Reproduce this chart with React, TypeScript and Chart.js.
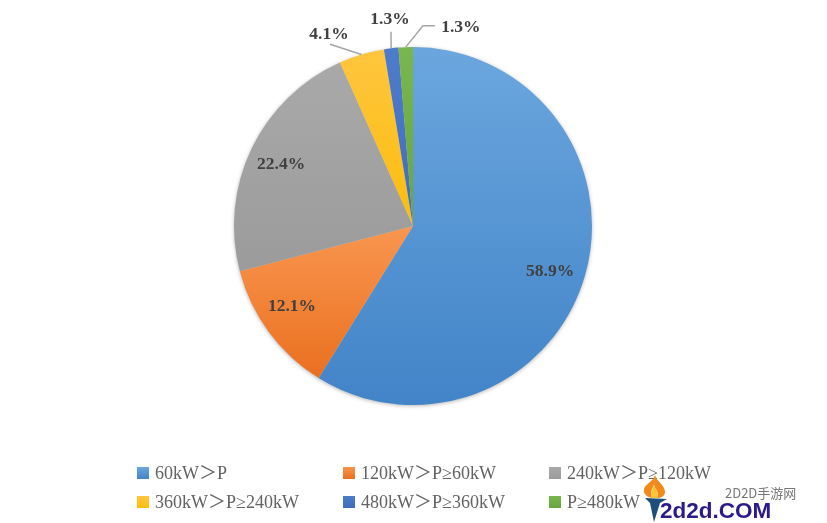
import { useEffect, useRef } from 'react';
import { Chart, registerables } from 'chart.js';

Chart.register(...registerables);

const categories = ['60kW\uFF1EP', '120kW\uFF1EP≥60kW', '240kW\uFF1EP≥120kW', '360kW\uFF1EP≥240kW', '480kW\uFF1EP≥360kW', 'P≥480kW'];
const shares = [58.9, 12.1, 22.4, 4.1, 1.3, 1.3];
const lightColors = ['#6ba6de', '#f9964f', '#a9a9a9', '#ffc63e', '#4f7cca', '#78b650'];
const darkColors = ['#4284c8', '#ea7020', '#9b9b9b', '#fcbc0c', '#3f6cbc', '#68a53f'];
const legendColors = ['#5b9bd5', '#ed7d31', '#a5a5a5', '#ffc000', '#4472c4', '#70ad47'];

const FONT = '"Liberation Serif", "Noto Sans CJK SC", serif';

// Vertical extent of one slice, used so each slice gets its own top-to-bottom shade
function sliceGradient(chart: any, index: number) {
    const area = chart.chartArea;
    if (!area) return legendColors[index];
    const cy = (area.top + area.bottom) / 2;
    const r = Math.min(area.width, area.height) / 2;
    const total = shares.reduce((a, b) => a + b, 0);
    const before = shares.slice(0, index).reduce((a, b) => a + b, 0);
    const start = (before / total) * Math.PI * 2;
    const end = ((before + shares[index]) / total) * Math.PI * 2;
    let top = cy;
    let bottom = cy;
    for (let k = 0; k <= 40; k++) {
        const y = cy - Math.cos(start + ((end - start) * k) / 40) * r;
        top = Math.min(top, y);
        bottom = Math.max(bottom, y);
    }
    const g = chart.ctx.createLinearGradient(0, top, 0, bottom);
    g.addColorStop(0, lightColors[index]);
    g.addColorStop(1, darkColors[index]);
    return g;
}

// Soft edge around the whole pie
const pieShadow = {
    id: 'pieShadow',
    beforeDatasetsDraw(chart: any) {
        const arc = chart.getDatasetMeta(0).data[0];
        const { ctx } = chart;
        ctx.save();
        ctx.shadowColor = 'rgba(0,0,0,0.35)';
        ctx.shadowBlur = 4;
        ctx.shadowOffsetY = 1;
        ctx.fillStyle = '#cccccc';
        ctx.beginPath();
        ctx.arc(arc.x, arc.y, arc.outerRadius - 0.5, 0, Math.PI * 2);
        ctx.fill();
        ctx.restore();
    },
};

// Value labels: distance from centre as a ratio of radius, extra angle in degrees
const labelRadius = [0.804, 0.807, 0.817, 1.18, 1.17, 1.15];
const labelAngle = [1.8, 3.3, 0, -6.7, 0.7, 15.8];

const sliceLabels = {
    id: 'sliceLabels',
    afterDatasetsDraw(chart: any) {
        const { ctx } = chart;
        const arcs = chart.getDatasetMeta(0).data;
        ctx.save();
        ctx.font = `bold 17.5px ${FONT}`;
        ctx.textAlign = 'center';
        ctx.textBaseline = 'middle';
        arcs.forEach((arc: any, i: number) => {
            const mid = (arc.startAngle + arc.endAngle) / 2;
            const a = mid + (labelAngle[i] * Math.PI) / 180;
            const x = arc.x + Math.cos(a) * arc.outerRadius * labelRadius[i];
            const y = arc.y + Math.sin(a) * arc.outerRadius * labelRadius[i];
            if (i >= 3) {
                // leader line from the slice edge out to the label
                const ex = arc.x + Math.cos(mid) * arc.outerRadius;
                const ey = arc.y + Math.sin(mid) * arc.outerRadius;
                ctx.strokeStyle = '#a6a6a6';
                ctx.lineWidth = 1.5;
                ctx.beginPath();
                ctx.moveTo(ex, ey);
                if (i === 3) ctx.lineTo(x + 1, y + 12);
                if (i === 4) ctx.lineTo(x + 1, y + 14);
                if (i === 5) {
                    ctx.lineTo(x - 38, y);
                    ctx.lineTo(x - 26, y);
                }
                ctx.stroke();
            }
            ctx.fillStyle = '#404040';
            ctx.fillText(`${shares[i].toFixed(1)}%`, x, y + 2);
        });
        ctx.restore();
    },
};

const legendLefts = [137, 343, 549];
const legendTops = [463, 492];

export default function App() {
    const canvasRef = useRef<HTMLCanvasElement>(null);

    useEffect(() => {
        if (!canvasRef.current) return;
        const chart = new Chart(canvasRef.current, {
            type: 'pie',
            data: {
                labels: categories,
                datasets: [{
                    data: shares,
                    backgroundColor: (c: any) => sliceGradient(c.chart, c.dataIndex),
                    borderWidth: 0,
                }],
            },
            options: {
                responsive: false,
                animation: false,
                layout: { padding: { top: 47, bottom: 118, left: 0, right: 1 } },
                plugins: { legend: { display: false }, tooltip: { enabled: false } },
            },
            plugins: [pieShadow, sliceLabels],
        });
        return () => chart.destroy();
    }, []);

    return (
        <div style={{ position: 'absolute', left: 0, top: 0, width: 827, height: 523, background: '#fff', overflow: 'hidden', fontFamily: FONT }}>
            <canvas ref={canvasRef} width={827} height={523} style={{ position: 'absolute', left: 0, top: 0 }} />
            {categories.map((name, i) => (
                <div key={name} style={{ position: 'absolute', left: legendLefts[i % 3], top: legendTops[Math.floor(i / 3)], display: 'flex', alignItems: 'center', fontSize: 18, lineHeight: '20px', color: '#636363', whiteSpace: 'nowrap' }}>
                    <span style={{ width: 12, height: 12, background: `linear-gradient(${lightColors[i]}, ${darkColors[i]})`, marginRight: 6 }} />
                    {name}
                </div>
            ))}
            <svg width={30} height={52} viewBox="0 0 30 52" style={{ position: 'absolute', left: 640, top: 473 }}>
                <path d="M15 2 C17 9 25 12 25 19 C25 23 21 25 17 25 C20 20 15 16 14 12 C12 16 10 19 12 25 C7 24 3 21 4 16 C5 11 13 9 15 2 Z" fill="#f08a1d" />
                <path d="M14 12 C15 16 20 20 17 25 L12 25 C10 19 12 16 14 12 Z" fill="#fbc53a" />
                <path d="M5 25 L27 26 L20 30 L14 49 L10 30 Z" fill="#1d4f7c" />
            </svg>
            <div style={{ position: 'absolute', left: 725, top: 484, fontFamily: '"Noto Sans CJK SC", sans-serif', fontSize: 13, lineHeight: '18px', color: '#777' }}>2D2D手游网</div>
            <div style={{ position: 'absolute', left: 660, top: 498, fontFamily: '"Liberation Sans", sans-serif', fontWeight: 700, fontSize: 22.5, lineHeight: '26px', color: '#2a1a8c' }}>2d2d.COM</div>
        </div>
    );
}
